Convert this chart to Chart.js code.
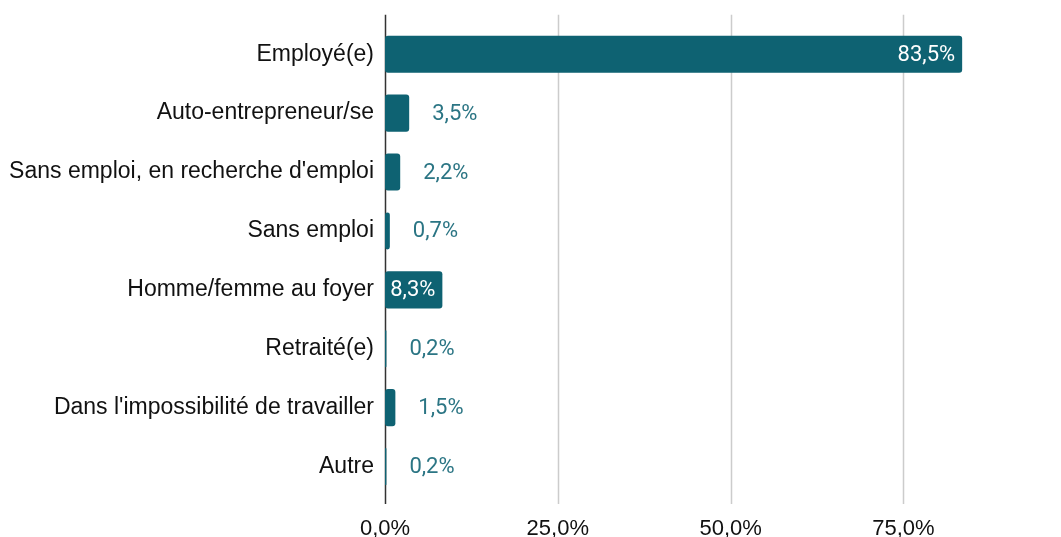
<!DOCTYPE html>
<html>
<head>
<meta charset="utf-8">
<script src="https://cdn.jsdelivr.net/npm/chart.js@4/dist/chart.umd.min.js"></script>
<style>
  html, body { margin: 0; padding: 0; background: #fff; overflow: hidden; }
  canvas { display: block; }
</style>
</head>
<body>
<canvas id="statusChart" width="1061" height="560"></canvas>
<script>
var categories = [
  "Employé(e)",
  "Auto-entrepreneur/se",
  "Sans emploi, en recherche d'emploi",
  "Sans emploi",
  "Homme/femme au foyer",
  "Retraité(e)",
  "Dans l'impossibilité de travailler",
  "Autre"
];
var shares = [83.5, 3.5, 2.2, 0.7, 8.3, 0.2, 1.5, 0.2];
var tickValues = [0, 25, 50, 75];

var barColor = "#0e6272";
var outsideLabelColor = "#2b7584";

Chart.defaults.font.family = "'Liberation Sans', Arial, sans-serif";
Chart.defaults.font.size = 22;
Chart.defaults.color = "#111";

function pct(v) {
  return v.toFixed(1).replace(".", ",") + "%";
}

// grid lines reach a bit past the plot area, like the original
var gridPlugin = {
  id: "grid",
  beforeDatasetsDraw: function (chart) {
    var ctx = chart.ctx, area = chart.chartArea, x = chart.scales.x;
    var top = area.top - 10, bottom = area.bottom + 8;
    ctx.save();
    ctx.lineWidth = 1.5;
    ctx.strokeStyle = "#cccccc";
    tickValues.forEach(function (v) {
      if (v === 0) return;
      var px = Math.round(x.getPixelForValue(v)) + 0.5;
      ctx.beginPath();
      ctx.moveTo(px, top);
      ctx.lineTo(px, bottom);
      ctx.stroke();
    });
    ctx.strokeStyle = "#333333";
    var x0 = Math.round(x.getPixelForValue(0)) + 0.5;
    ctx.beginPath();
    ctx.moveTo(x0, top);
    ctx.lineTo(x0, bottom);
    ctx.stroke();
    ctx.restore();
  }
};

var valueLabels = {
  id: "valueLabels",
  afterDatasetsDraw: function (chart) {
    var ctx = chart.ctx;
    var meta = chart.getDatasetMeta(0);
    ctx.save();
    ctx.font = "22px Roboto";
    ctx.textBaseline = "middle";
    meta.data.forEach(function (bar, i) {
      var text = pct(shares[i]);
      var w = ctx.measureText(text).width;
      var barW = bar.x - bar.base;
      if (w + 12 < barW) {
        ctx.fillStyle = "#ffffff";
        ctx.textAlign = "right";
        ctx.fillText(text, bar.x - 7, bar.y + 1);
      } else {
        ctx.fillStyle = outsideLabelColor;
        ctx.textAlign = "left";
        ctx.fillText(text, bar.x + 23, bar.y + 1);
      }
    });
    ctx.restore();
  }
};

new Chart(document.getElementById("statusChart"), {
  type: "bar",
  data: {
    labels: categories,
    datasets: [{
      data: shares,
      backgroundColor: barColor,
      borderRadius: 3,
      borderSkipped: false,
      categoryPercentage: 1,
      barPercentage: 0.63
    }]
  },
  options: {
    indexAxis: "y",
    responsive: false,
    animation: false,
    layout: { padding: { top: 23, right: 0, bottom: 0, left: 0 } },
    plugins: {
      legend: { display: false },
      tooltip: { enabled: false }
    },
    scales: {
      x: {
        min: 0,
        max: 97.8,
        border: { display: false },
        grid: { display: false, drawTicks: false },
        afterBuildTicks: function (scale) {
          scale.ticks = tickValues.map(function (v) { return { value: v }; });
        },
        afterFit: function (scale) { scale.height = 64; },
        ticks: {
          padding: 20,
          maxRotation: 0,
          callback: function (v) { return pct(v); }
        }
      },
      y: {
        border: { display: false },
        grid: { display: false, drawTicks: false },
        afterFit: function (scale) { scale.width = 385; },
        ticks: { padding: 11, font: { size: 23 } }
      }
    }
  },
  plugins: [gridPlugin, valueLabels]
});
</script>
</body>
</html>
